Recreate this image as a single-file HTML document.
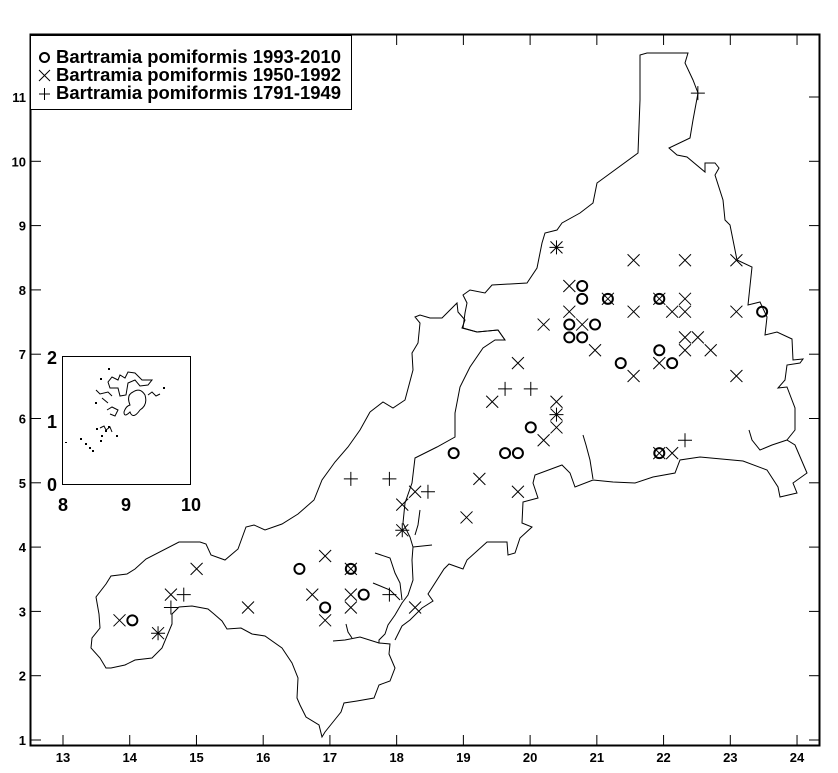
<!DOCTYPE html>
<html><head><meta charset="utf-8"><style>
body{margin:0;background:#fff;}
svg text{font-family:"Liberation Sans",Arial,sans-serif;font-weight:bold;fill:#000;}
</style></head><body>
<svg id="s" width="838" height="768" xmlns="http://www.w3.org/2000/svg">
<rect x="0" y="0" width="838" height="768" fill="#fff"/>
<rect x="30.5" y="34.5" width="789" height="711" fill="none" stroke="#000" stroke-width="2"/>
<g id="ticks" stroke="#000" stroke-width="1"></g>
<g id="labels" font-size="13"></g>
<g fill="none" stroke="#000" stroke-width="1">
<polyline points="370,412 383,402 393,408 405,400 413,370 412,353 418,343 420,323 415,317 420,315 430,318 442,318 448,312 457,303 458,312 465,320 462,328 477,332 498,330 505,340 495,340 483,348 470,367 460,387 455,413 455,437 437,447 415,458 412,483 405,503 403,523 410,537 413,547 412,560 413,580 408,595 402,603 395,615 388,625 385,634 379,640 379,643 390,644 389,654 395,668 390,681 379,685 374,698 357,701 344,703 341,712 333,722 325,732 322,737 319,725 306,717 300,705 297,698 298,678 292,663 282,648 265,636 252,634 241,628 227,629 222,621 214,614 208,609 192,606 179,607 172,614 172,624 162,648 152,658 135,660 125,665 111,668 106,668 100,658 91,648 92,638 100,628 99,614 96,597 106,584 111,576 127,574 135,569 146,559 179,542 200,542 206,544 211,555 225,560 238,549 246,527 254,525 265,530 282,524 298,514 314,500 322,480 335,462 348,447 360,430 370,412"/>
<polyline points="505,340 498,330 477,332 463,328 465,313 467,303 463,295 470,290 485,293 492,285 527,283 537,268 542,243 545,233 557,230 562,223 580,213 593,203 597,183 638,153 640,100 640,55 647,53 688,53 685,63 693,80 698,93 693,120 690,138 669,148 677,155 687,157 705,172 705,163 715,163 719,168 715,175 723,200 725,220 730,225 737,260 752,267 748,305 760,302 767,317 765,335 777,332 792,339 793,360 803,359 800,363 787,365 785,380 778,388 787,387 795,408 795,430 787,440 795,445 807,473 793,483 797,493 780,497 778,487 767,470 743,461 700,457 680,460 675,473 653,477 635,483 613,482 593,480 575,487 570,473 562,465 535,475 533,483 538,498 523,502 522,523 532,527 520,538 515,553 508,555 507,542 487,542 467,560 463,569 449,564 444,569 428,594 433,601 422,608 410,620 402,626 395,640"/>
<polyline points="787,440 772,445 760,450 752,440 749,430"/>
<polyline points="593,479 590,460 586,445 583,435"/>
<polyline points="375,553 390,558 395,573 400,583 402,600"/>
<polyline points="373,583 390,590 400,600"/>
<polyline points="413,547 432,545"/>
<polyline points="420,510 418,525 415,535"/>
<polyline points="346,624 348,632 352,638"/>
<polyline points="333,641 345,640 360,637 379,643"/>
</g>
<rect x="62.5" y="356.5" width="128" height="128" fill="none" stroke="#000" stroke-width="1"/>
<g fill="none" stroke="#000" stroke-width="1">
<path d="M130,405 Q126,395 133,392 Q140,387 145,395 Q148,405 140,410 Q133,420 130,412 Q124,418 124,412 Q126,406 130,405Z"/>
<path d="M108,382 L112,377 L118,380 L120,375 L125,378 L128,372 L135,373 L142,380 L152,380 L148,385 L140,386 L135,380 L128,383 L126,395 L120,396 L118,388 L110,388Z"/>
<path d="M96,390 L100,394 L108,392 L112,396"/>
<path d="M107,410 L112,407 L118,410 L115,416 L110,414"/>
<path d="M102,398 L108,403"/>
<path d="M148,395 L152,392 L156,396 L160,394"/>
<path d="M100,428 L104,426 L106,430 L110,427 L112,432"/>
</g>
<g fill="#000">
<rect x="65" y="442" width="2" height="1"/><rect x="80" y="438" width="2" height="2"/><rect x="85" y="443" width="2" height="2"/><rect x="89" y="447" width="2" height="2"/><rect x="92" y="450" width="2" height="2"/><rect x="100" y="440" width="2" height="2"/><rect x="101" y="435" width="2" height="2"/><rect x="96" y="428" width="2" height="2"/><rect x="105" y="430" width="2" height="2"/><rect x="108" y="426" width="2" height="2"/><rect x="116" y="435" width="2" height="2"/><rect x="163" y="387" width="2" height="2"/><rect x="95" y="402" width="2" height="2"/><rect x="108" y="368" width="2" height="2"/><rect x="100" y="378" width="2" height="2"/>
</g>
<g font-size="18">
<text x="57" y="364" text-anchor="end">2</text>
<text x="57" y="428" text-anchor="end">1</text>
<text x="57" y="491" text-anchor="end">0</text>
<text x="63" y="511" text-anchor="middle">8</text>
<text x="126" y="511" text-anchor="middle">9</text>
<text x="191" y="511" text-anchor="middle">10</text>
</g>
<rect x="30.5" y="35.5" width="321" height="74" fill="#fff" stroke="#000" stroke-width="1"/>
<g font-size="18">
<text x="56" y="63" textLength="285" lengthAdjust="spacingAndGlyphs">Bartramia pomiformis 1993-2010</text>
<text x="56" y="81" textLength="285" lengthAdjust="spacingAndGlyphs">Bartramia pomiformis 1950-1992</text>
<text x="56" y="99" textLength="285" lengthAdjust="spacingAndGlyphs">Bartramia pomiformis 1791-1949</text>
</g>
<circle cx="44.5" cy="57.5" r="4.5" fill="none" stroke="#000" stroke-width="2"/>
<path d="M39,70 L50,81 M50,70 L39,81 M39,94 L50,94 M44.5,88 L44.5,100" stroke="#000" stroke-width="1"/>
<g id="pts" fill="none" stroke="#000"></g>
</svg>
<script>
var NS="http://www.w3.org/2000/svg";
function X(v){return 63+(v-13)*66.73;}
function Y(v){return 740-(v-1)*64.3;}
function PX(v){return 1+0.963*X(v);}
function PY(v){return Y(v)+2.5;}
function el(p,t,a){var e=document.createElementNS(NS,t);for(var k in a)e.setAttribute(k,a[k]);p.appendChild(e);return e;}
var tk=document.getElementById('ticks'),lb=document.getElementById('labels');
for(var i=13;i<=24;i++){var x=X(i);
el(tk,'line',{x1:x,y1:745,x2:x,y2:735});el(tk,'line',{x1:x,y1:35,x2:x,y2:45});
var t=el(lb,'text',{x:x,y:762,'text-anchor':'middle'});t.textContent=i;}
for(var j=1;j<=11;j++){var y=Y(j);
el(tk,'line',{x1:31,y1:y,x2:41,y2:y});el(tk,'line',{x1:819,y1:y,x2:809,y2:y});
var t=el(lb,'text',{x:26,y:y+5,'text-anchor':'end'});t.textContent=j;}
var g=document.getElementById('pts');
var O=[[14.1,2.9],[16.7,3.7],[17.1,3.1],[17.5,3.7],[17.7,3.3],[19.1,5.5],[19.9,5.5],[20.1,5.5],[20.3,5.9],[20.9,7.5],[20.9,7.3],[21.1,8.1],[21.1,7.9],[21.1,7.3],[21.3,7.5],[21.5,7.9],[21.7,6.9],[22.3,7.9],[22.3,7.1],[22.5,6.9],[22.3,5.5],[23.9,7.7]];
var C=[[13.9,2.9],[14.7,3.3],[15.1,3.7],[15.9,3.1],[16.9,3.3],[17.1,3.9],[17.1,2.9],[17.5,3.3],[17.5,3.1],[17.5,3.7],[18.5,3.1],[18.3,4.7],[18.5,4.9],[19.3,4.5],[19.5,5.1],[20.1,4.9],[19.7,6.3],[20.1,6.9],[20.5,5.7],[20.7,5.9],[20.7,6.3],[20.5,7.5],[20.9,8.1],[20.9,7.7],[21.1,7.5],[21.3,7.1],[21.5,7.9],[21.9,8.5],[21.9,7.7],[21.9,6.7],[22.3,7.9],[22.3,6.9],[22.5,7.7],[22.7,7.7],[22.7,7.9],[22.7,8.5],[22.7,7.3],[22.7,7.1],[22.9,7.3],[23.1,7.1],[23.5,8.5],[23.5,7.7],[23.5,6.7],[22.3,5.5],[22.5,5.5],[14.5,2.7],[18.3,4.3],[20.7,8.7],[20.7,6.1]];
var P=[[14.7,3.1],[14.9,3.3],[17.5,5.1],[18.1,5.1],[18.7,4.9],[18.1,3.3],[19.9,6.5],[20.3,6.5],[22.7,5.7],[22.9,11.1],[20.7,6.1],[14.5,2.7],[18.3,4.3],[20.7,8.7]];
O.forEach(function(p){el(g,'circle',{cx:PX(p[0]),cy:PY(p[1]),r:5,'stroke-width':2});});
C.forEach(function(p){var x=PX(p[0]),y=PY(p[1]);el(g,'path',{d:'M'+(x-6)+','+(y-6)+'L'+(x+6)+','+(y+6)+'M'+(x+6)+','+(y-6)+'L'+(x-6)+','+(y+6),'stroke-width':1});});
P.forEach(function(p){var x=PX(p[0]),y=PY(p[1]);el(g,'path',{d:'M'+(x-7)+','+y+'L'+(x+7)+','+y+'M'+x+','+(y-7)+'L'+x+','+(y+7),'stroke-width':1});});
</script>
</body></html>
